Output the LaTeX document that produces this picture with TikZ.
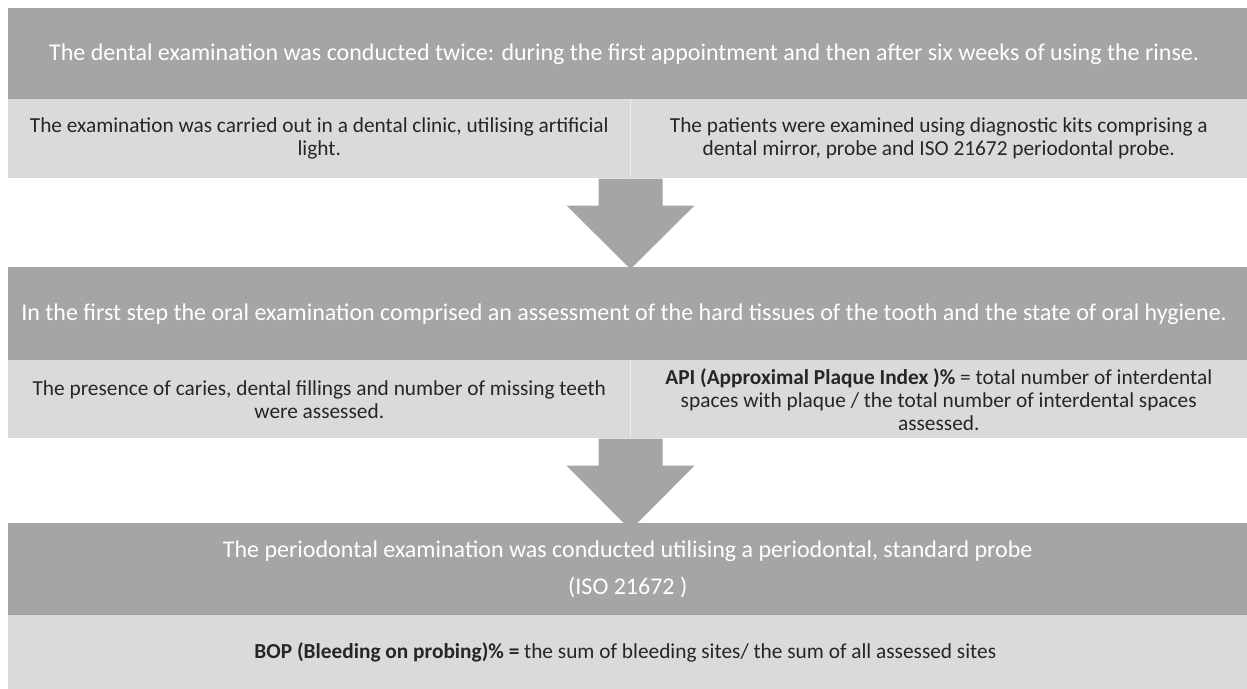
\documentclass[tikz,border=0pt]{standalone}
\usepackage{fontspec}
\setmainfont{Carlito}
\usetikzlibrary{calc, positioning}

\definecolor{stepgray}{HTML}{A5A5A5}
\definecolor{detailgray}{HTML}{DADADA}

\begin{document}
\begin{tikzpicture}[
    x=0.75pt, y=-0.75pt,
    stepbox/.style={
        rectangle, fill=stepgray, text=white, align=center,
        font=\fontsize{18}{22}\selectfont,
        minimum width=929.25pt, inner sep=0pt, anchor=north west
    },
    detail/.style={
        rectangle, fill=detailgray, text=black!85, align=center,
        font=\fontsize{16}{17.25}\selectfont,
        inner sep=0pt, anchor=north west
    },
    flow/.style={fill=stepgray}
]
\useasboundingbox (0,0) rectangle (1247,689);

\node[stepbox, minimum height=68.25pt] (head1) at (8,8) {
    The dental examination was conducted twice: during the first appointment and then after six weeks of using the rinse.
};
\node[detail, minimum width=466.5pt, minimum height=59.25pt] (det1l) at (8,99) {
    The examination was carried out in a dental clinic, utilising artificial\\
    light.
};
\node[detail, minimum width=462.75pt, minimum height=59.25pt] (det1r) at (630,99) {
    The patients were examined using diagnostic kits comprising a\\
    dental mirror, probe and ISO 21672 periodontal probe.
};

\node[stepbox, minimum height=69.75pt] (head2) at (8,267) {
    In the first step the oral examination comprised an assessment of the hard tissues of the tooth and the state of oral hygiene.
};
\node[detail, minimum width=466.5pt, minimum height=58.5pt] (det2l) at (8,360) {
    The presence of caries, dental fillings and number of missing teeth\\
    were assessed.
};
\node[detail, minimum width=462.75pt, minimum height=58.5pt] (det2r) at (630,360) {
    \textbf{API (Approximal Plaque Index )\%} = total number of interdental\\
    spaces with plaque / the total number of interdental spaces\\
    assessed.
};

\node[stepbox, minimum height=69pt] (head3) at (8,523) {
    The periodontal examination was conducted utilising a periodontal, standard probe\\[5.75pt]
    (ISO 21672 )
};
\node[detail, minimum width=929.25pt, minimum height=55.5pt] (det3) at (8,615) {
    \textbf{BOP (Bleeding on probing)\% =} the sum of bleeding sites/ the sum of all assessed sites
};

% thin seams between the paired cells
\draw[white!55!detailgray, line width=0.75pt] (det1l.north east) -- (det1l.south east);
\draw[white!55!detailgray, line width=0.75pt] (det2l.north east) -- (det2l.south east);

% block arrows down to the next step
\fill[flow] ($(det1l.south east)+(-32,0)$) -- ++(64,0) -- ++(0,27) -- ++(32,0)
    -- ($(det1l.south east |- head2.north)+(0,2)$)
    -- ($(det1l.south east)+(-64,27)$) -- ++(32,0) -- cycle;
\fill[flow] ($(det2l.south east)+(-32,0)$) -- ++(64,0) -- ++(0,27) -- ++(32,0)
    -- ($(det2l.south east |- head3.north)+(0,7)$)
    -- ($(det2l.south east)+(-64,27)$) -- ++(32,0) -- cycle;

\end{tikzpicture}
\end{document}
